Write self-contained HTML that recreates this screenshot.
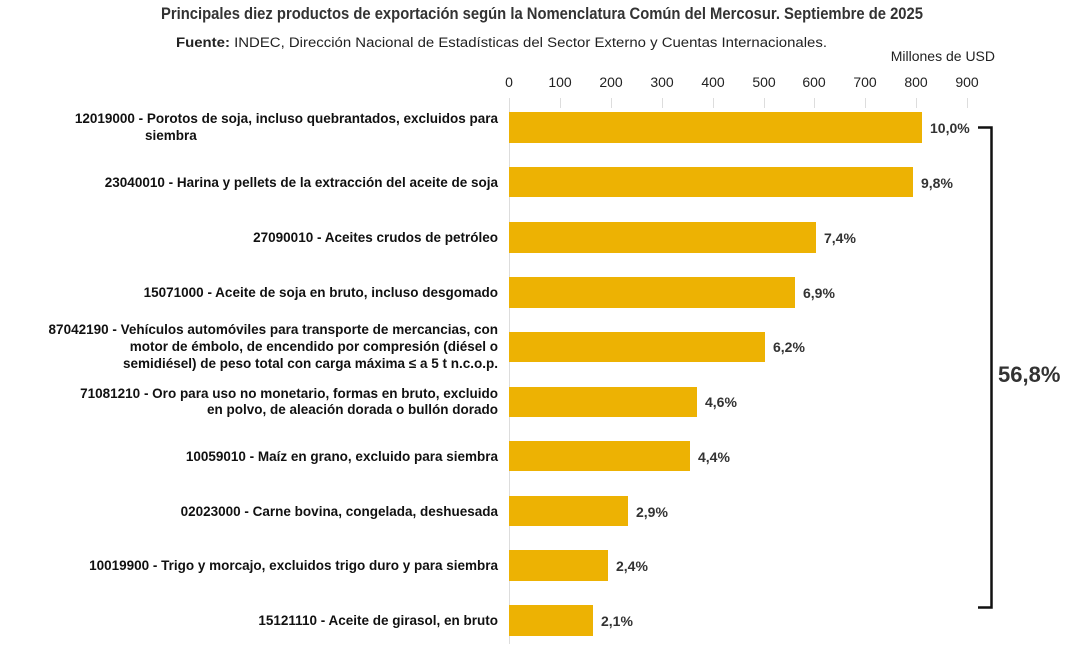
<!DOCTYPE html>
<html><head><meta charset="utf-8"><style>
body{margin:0;background:#fff;}
svg text{font-family:"Liberation Sans",Arial,sans-serif;}
</style></head><body>
<svg width="1068" height="644" viewBox="0 0 1068 644" xmlns="http://www.w3.org/2000/svg">
<rect width="1068" height="644" fill="#fff"/>
<text x="542" y="19" text-anchor="middle" font-family="'Liberation Sans Narrow','Liberation Sans',sans-serif" font-size="17" font-weight="bold" fill="#333" textLength="762" lengthAdjust="spacingAndGlyphs">Principales diez productos de exportación según la Nomenclatura Común del Mercosur. Septiembre de 2025</text>
<text x="176" y="47" font-size="13.5" fill="#222" textLength="651" lengthAdjust="spacingAndGlyphs"><tspan font-weight="bold">Fuente:</tspan> INDEC, Dirección Nacional de Estadísticas del Sector Externo y Cuentas Internacionales.</text>
<text x="995" y="61" text-anchor="end" font-size="14" fill="#222">Millones de USD</text>
<g font-size="14" fill="#222" text-anchor="middle">
<text x="509" y="87">0</text><text x="560" y="87">100</text><text x="611" y="87">200</text><text x="662" y="87">300</text><text x="713" y="87">400</text><text x="764" y="87">500</text><text x="814" y="87">600</text><text x="865" y="87">700</text><text x="916" y="87">800</text><text x="967" y="87">900</text>
</g>
<g stroke="#ddd" stroke-width="1">
<line x1="509.5" y1="98" x2="509.5" y2="644"/>
<line x1="560.5" y1="98" x2="560.5" y2="108"/><line x1="611.5" y1="98" x2="611.5" y2="108"/><line x1="662.5" y1="98" x2="662.5" y2="108"/><line x1="713.5" y1="98" x2="713.5" y2="108"/><line x1="764.5" y1="98" x2="764.5" y2="108"/><line x1="814.5" y1="98" x2="814.5" y2="108"/><line x1="865.5" y1="98" x2="865.5" y2="108"/><line x1="916.5" y1="98" x2="916.5" y2="108"/><line x1="967.5" y1="98" x2="967.5" y2="108"/>
</g>
<g fill="#EDB203">
<rect x="509" y="112" width="413" height="31"/>
<rect x="509" y="167" width="404" height="30"/>
<rect x="509" y="222" width="307" height="31"/>
<rect x="509" y="277" width="286" height="31"/>
<rect x="509" y="332" width="256" height="30"/>
<rect x="509" y="387" width="188" height="30"/>
<rect x="509" y="441" width="181" height="30"/>
<rect x="509" y="496" width="119" height="30"/>
<rect x="509" y="550" width="99" height="31"/>
<rect x="509" y="605" width="84" height="31"/>
</g>
<g font-size="14" font-weight="bold" fill="#333">
<text x="930" y="133">10,0%</text>
<text x="921" y="188">9,8%</text>
<text x="824" y="243">7,4%</text>
<text x="803" y="298">6,9%</text>
<text x="773" y="352">6,2%</text>
<text x="705" y="407">4,6%</text>
<text x="698" y="462">4,4%</text>
<text x="636" y="517">2,9%</text>
<text x="616" y="571">2,4%</text>
<text x="601" y="626">2,1%</text>
</g>
<g font-size="13.5" font-weight="bold" fill="#111" text-anchor="end">
<text x="498" y="123">12019000 - Porotos de soja, incluso quebrantados, excluidos para</text>
<text x="145" y="140" text-anchor="start">siembra</text>
<text x="498" y="187">23040010 - Harina y pellets de la extracción del aceite de soja</text>
<text x="498" y="242">27090010 - Aceites crudos de petróleo</text>
<text x="498" y="297">15071000 - Aceite de soja en bruto, incluso desgomado</text>
<text x="498" y="334">87042190 - Vehículos automóviles para transporte de mercancias, con</text>
<text x="498" y="351">motor de émbolo, de encendido por compresión (diésel o</text>
<text x="498" y="368">semidiésel) de peso total con carga máxima ≤  a 5 t n.c.o.p.</text>
<text x="498" y="398">71081210 - Oro para uso no monetario, formas en bruto, excluido</text>
<text x="498" y="414">en polvo, de aleación dorada o bullón dorado</text>
<text x="498" y="461">10059010 - Maíz en grano, excluido para siembra</text>
<text x="498" y="516">02023000 - Carne bovina, congelada, deshuesada</text>
<text x="498" y="570">10019900 - Trigo y morcajo, excluidos trigo duro y para siembra</text>
<text x="498" y="625">15121110 - Aceite de girasol, en bruto</text>
</g>
<path d="M978 127.5 H991.5 V607.5 H978" fill="none" stroke="#111" stroke-width="2.5"/>
<text x="998" y="382" font-size="22" font-weight="bold" fill="#333">56,8%</text>
</svg>
</body></html>
